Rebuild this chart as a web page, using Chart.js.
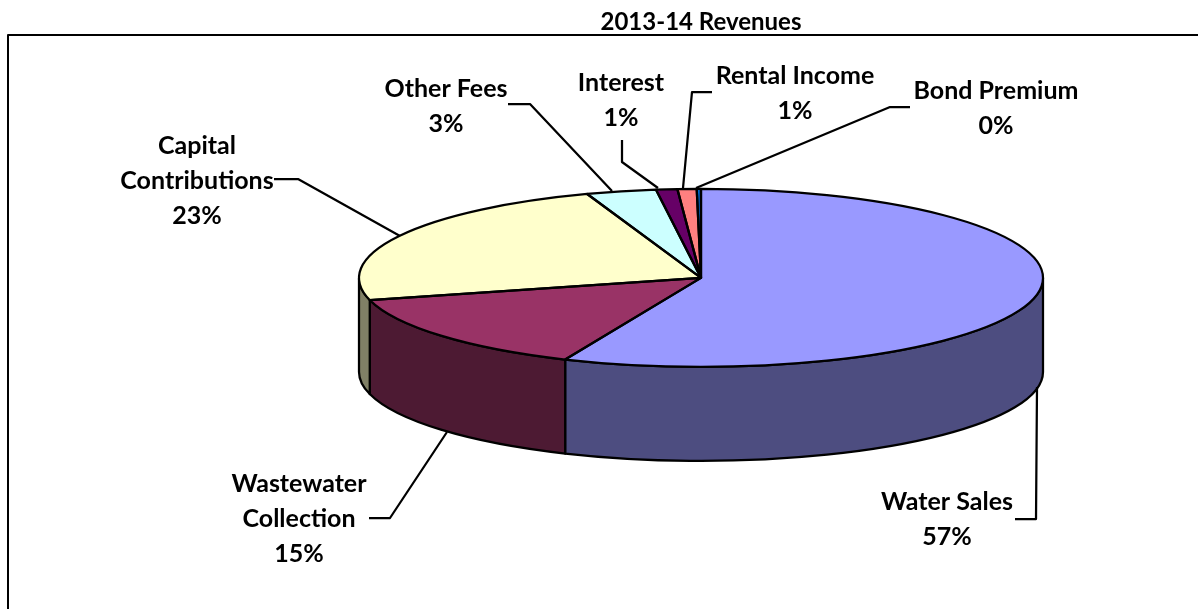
<!DOCTYPE html>
<html>
<head>
<meta charset="utf-8">
<title>2013-14 Revenues</title>
<script src="https://cdn.jsdelivr.net/npm/chart.js@4/dist/chart.umd.min.js"></script>
<style>
  body { margin: 0; background: #fff; }
  canvas { display: block; }
</style>
</head>
<body>
<canvas id="myChart" width="1198" height="609"></canvas>
<script>
var categories = ["Water Sales", "Wastewater Collection", "Capital Contributions", "Other Fees", "Interest", "Rental Income", "Bond Premium"];
var shares = [56.5, 14.5, 23.6, 3.3, 1.0, 0.9, 0.2];
var percentLabels = ["57%", "15%", "23%", "3%", "1%", "1%", "0%"];
var topColors = ["#9999FF", "#993366", "#FFFFCC", "#CCFFFF", "#660066", "#FF8080", "#0066CC"];
var wallColors = ["#4D4D80", "#4D1A33", "#808066", "#668080", "#330033", "#804040", "#003366"];

var radius = 342;
var squash = 89 / 342;
var depth = 94;
var labelFont = "bold 25px Lato";

// where each label sits and the elbow line that goes back to its slice
var callouts = [
  { lines: ["Water Sales"], x: 947, y: 502, leader: [[1015, 519], [1036, 519], [1037, 387]] },
  { lines: ["Wastewater", "Collection"], x: 299, y: 484, leader: [[369, 518], [390, 518], [447, 432]] },
  { lines: ["Capital", "Contributions"], x: 197, y: 146, leader: [[274, 179], [298, 179], [400, 236]] },
  { lines: ["Other Fees"], x: 446, y: 89, leader: [[508, 104], [530, 104], [612, 191]] },
  { lines: ["Interest"], x: 621, y: 83, leader: [[622, 140], [622, 162], [658, 188]] },
  { lines: ["Rental Income"], x: 795, y: 76, leader: [[712, 92], [692, 92], [683, 188]] },
  { lines: ["Bond Premium"], x: 996, y: 91, leader: [[910, 107], [890, 107], [696, 188]] },
];

var pie3d = {
  id: "pie3d",
  beforeDatasetsDraw: function (chart) {
    var ctx = chart.ctx;
    var arcs = chart.getDatasetMeta(0).data;
    var cx = arcs[0].x;
    var cy = arcs[0].y;
    var r = arcs[0].outerRadius;

    // side walls, only the part of each slice that faces the viewer
    ctx.save();
    ctx.lineWidth = 2.25;
    ctx.strokeStyle = "#000";
    ctx.lineJoin = "round";
    arcs.forEach(function (arc, i) {
      var a0 = Math.max(arc.startAngle, 0);
      var a1 = Math.min(arc.endAngle, Math.PI);
      if (a1 <= a0) return;
      ctx.beginPath();
      ctx.ellipse(cx, cy, r, r * squash, 0, a0, a1);
      ctx.ellipse(cx, cy + depth, r, r * squash, 0, a1, a0, true);
      ctx.closePath();
      ctx.fillStyle = wallColors[i];
      ctx.fill();
      ctx.stroke();
    });
    ctx.restore();

    // the library fills the top face, flattened into an ellipse
    ctx.save();
    ctx.translate(cx, cy);
    ctx.scale(1, squash);
    ctx.translate(-cx, -cy);
  },
  afterDatasetsDraw: function (chart) {
    var ctx = chart.ctx;
    ctx.restore();

    var arcs = chart.getDatasetMeta(0).data;
    ctx.save();
    ctx.lineWidth = 2.25;
    ctx.strokeStyle = "#000";
    ctx.lineJoin = "round";
    arcs.forEach(function (arc) {
      ctx.beginPath();
      ctx.moveTo(arc.x, arc.y);
      ctx.ellipse(arc.x, arc.y, arc.outerRadius, arc.outerRadius * squash, 0, arc.startAngle, arc.endAngle);
      ctx.closePath();
      ctx.stroke();
    });

    // callouts
    callouts.forEach(function (c, i) {
      ctx.beginPath();
      c.leader.forEach(function (p, j) {
        if (j === 0) ctx.moveTo(p[0], p[1]);
        else ctx.lineTo(p[0], p[1]);
      });
      ctx.stroke();

      ctx.fillStyle = "#000";
      ctx.font = labelFont;
      ctx.textAlign = "center";
      ctx.textBaseline = "middle";
      var y = c.y;
      c.lines.forEach(function (line) {
        ctx.fillText(line, c.x, y);
        y += 35;
      });
      ctx.fillText(percentLabels[i], c.x, y);
    });

    // frame, runs off the right and bottom of the picture
    ctx.lineWidth = 2;
    ctx.strokeRect(8, 35, 1300, 700);
    ctx.restore();
  },
};

var chart1 = document.getElementById("myChart").getContext("2d");

var myChart = new Chart(chart1, {
  type: "pie",
  data: {
    labels: categories,
    datasets: [
      {
        data: shares,
        backgroundColor: topColors,
        borderWidth: 0,
        radius: radius,
        clip: false,
      },
    ],
  },
  options: {
    responsive: false,
    animation: false,
    layout: { padding: { left: 204, bottom: 88 } },
    plugins: {
      legend: { display: false },
      tooltip: { enabled: false },
      title: {
        display: true,
        text: "2013-14 Revenues",
        color: "#000",
        font: { family: "Lato", size: 24, weight: "bold" },
        padding: { top: 8, bottom: -2 },
      },
    },
  },
  plugins: [pie3d],
});
</script>
</body>
</html>
